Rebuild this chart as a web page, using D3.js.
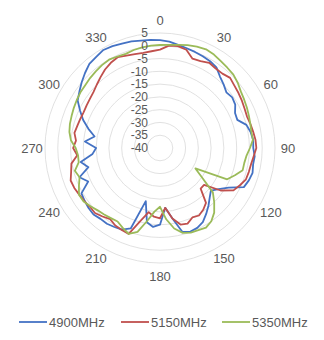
<!DOCTYPE html>
<html>
<head>
<meta charset="utf-8">
<script src="https://cdn.jsdelivr.net/npm/d3@7"></script>
<style>
  html, body { margin: 0; padding: 0; background: #fff; }
  svg { display: block; }
  text { font-family: "Liberation Sans", "DejaVu Sans", sans-serif; fill: #595959; }
</style>
</head>
<body>
<svg id="chart" width="324" height="340"></svg>
<script>
// Measurement angles (degrees, 5° steps)
const angles = d3.range(0, 360, 5);

// Gain values (dB) per band, one value per angle above
const gain4900 = [
  2.2, 1.8, 1.0, 0.4, 0.0, -0.4, -0.8, -1.5, -3.5, -4.8, -6.1, -5.5,
  -6.0, -7.6, -7.8, -5.0, -4.0, -3.4, -3.5, -2.8, -3.0, -2.5, -3.0, -3.8,
  -9.0, -12.0, -14.0, -12.5, -10.5, -8.5, -6.5, -5.5, -5.2, -6.0, -12.0, -16.5,
  -10.0, -9.0, -10.5, -18.5, -6.5, -4.8, -4.3, -3.8, -3.8, -3.2, -3.5, -4.0,
  -4.5, -9.0, -6.5, -11.0, -8.5, -13.5, -15.0, -10.5, -14.0, -11.0, -8.0, -5.5,
  -2.8, -1.5, 0.0, 1.5, 3.0, 3.5, 4.3, 4.0, 3.5, 3.2, 2.7, 2.5
];
const gain5150 = [
  -1.5, 0.2, 0.5, -0.2, -2.8, -2.5, -1.5, -2.0, -2.0, -1.2, -2.0, -2.5,
  -3.0, -3.5, -3.8, -3.4, -3.0, -2.5, -2.3, -3.2, -3.8, -4.0, -4.2, -5.5,
  -6.8, -11.0, -17.5, -17.5, -12.0, -10.5, -9.5, -10.0, -8.5, -9.0, -12.0, -16.5,
  -12.5, -13.0, -14.5, -10.5, -4.2, -4.6, -5.0, -6.0, -5.0, -4.0, -4.2, -3.8,
  -3.5, -3.0, -2.8, -4.0, -4.8, -7.5, -6.0, -7.0, -6.0, -6.5, -6.8, -7.0,
  -6.8, -6.5, -6.0, -5.0, -3.8, -2.5, -1.5, -0.8, -1.5, -2.0, -2.2, -2.0
];
const gain5350 = [
  0.3, 0.5, 1.0, 1.7, 2.2, 2.6, 2.2, 1.5, 1.0, 0.6, -0.3, -1.4,
  -2.0, -2.5, -3.0, -3.4, -3.7, -3.5, -4.8, -6.0, -6.5, -6.5, -8.8, -11.0,
  -24.0, -20.0, -13.0, -10.0, -7.0, -5.0, -4.0, -4.5, -4.8, -5.6, -8.0, -12.0,
  -17.0, -15.0, -11.0, -6.0, -4.2, -5.5, -6.8, -6.5, -6.0, -5.5, -4.5, -3.5,
  -3.4, -5.0, -6.5, -5.5, -7.7, -7.8, -7.0, -5.0, -4.0, -3.5, -3.2, -2.8,
  -2.4, -2.0, -1.8, -1.3, -0.9, -0.4, -0.1, -0.5, -0.8, -0.3, 0.0, 0.2
];

const seriesNames = ["4900MHz", "5150MHz", "5350MHz"];
const seriesColors = ["#4472C4", "#C0504D", "#9BBB59"];
const seriesValues = [gain4900, gain5150, gain5350];

// Radial gridline values and angular tick labels
const ringValues = d3.range(-40, 10, 5);
const angleTicks = d3.range(0, 360, 30);

const svg = d3.select("#chart");
const cx = 160, cy = 148, R = 115;

const r = d3.scaleLinear().domain([-40, 5]).range([0, R]);
const toRad = d => d * Math.PI / 180;

const g = svg.append("g").attr("transform", `translate(${cx},${cy})`);

// Concentric gridlines
g.selectAll("circle.ring")
  .data(ringValues.filter(v => v > -40))
  .join("circle")
  .attr("class", "ring")
  .attr("r", d => r(d))
  .attr("fill", "none")
  .attr("stroke", "#d9d9d9")
  .attr("stroke-width", 0.8);

// Series curves
const line = d3.lineRadial()
  .angle((d, i) => toRad(angles[i]))
  .radius(d => r(d))
  .curve(d3.curveLinearClosed);

g.selectAll("path.series")
  .data(seriesValues)
  .join("path")
  .attr("class", "series")
  .attr("d", d => line(d))
  .attr("fill", "none")
  .attr("stroke", (d, i) => seriesColors[i])
  .attr("stroke-width", 1.8)
  .attr("stroke-linejoin", "round");

// Value labels along the vertical axis
g.selectAll("text.val")
  .data(ringValues)
  .join("text")
  .attr("class", "val")
  .attr("x", -12)
  .attr("y", d => -r(d))
  .attr("dy", "0.35em")
  .attr("text-anchor", "end")
  .attr("font-size", 12)
  .text(d => String(d));

// Angle labels
const labelR = R + 13;
g.selectAll("text.ang")
  .data(angleTicks)
  .join("text")
  .attr("class", "ang")
  .attr("x", d => labelR * Math.sin(toRad(d)))
  .attr("y", d => -labelR * Math.cos(toRad(d)))
  .attr("dy", "0.35em")
  .attr("text-anchor", "middle")
  .attr("font-size", 13)
  .text(d => String(d));

// Legend
const legendX = [19, 121, 222];
const leg = svg.append("g").attr("transform", "translate(0,322)");
const items = leg.selectAll("g.item")
  .data(seriesNames)
  .join("g")
  .attr("class", "item")
  .attr("transform", (d, i) => `translate(${legendX[i]},0)`);
items.append("line")
  .attr("x1", 0).attr("x2", 28)
  .attr("y1", 0).attr("y2", 0)
  .attr("stroke", (d, i) => seriesColors[i])
  .attr("stroke-width", 1.8);
items.append("text")
  .attr("x", 30)
  .attr("dy", "0.35em")
  .attr("font-size", 13)
  .text(d => d);
</script>
</body>
</html>
